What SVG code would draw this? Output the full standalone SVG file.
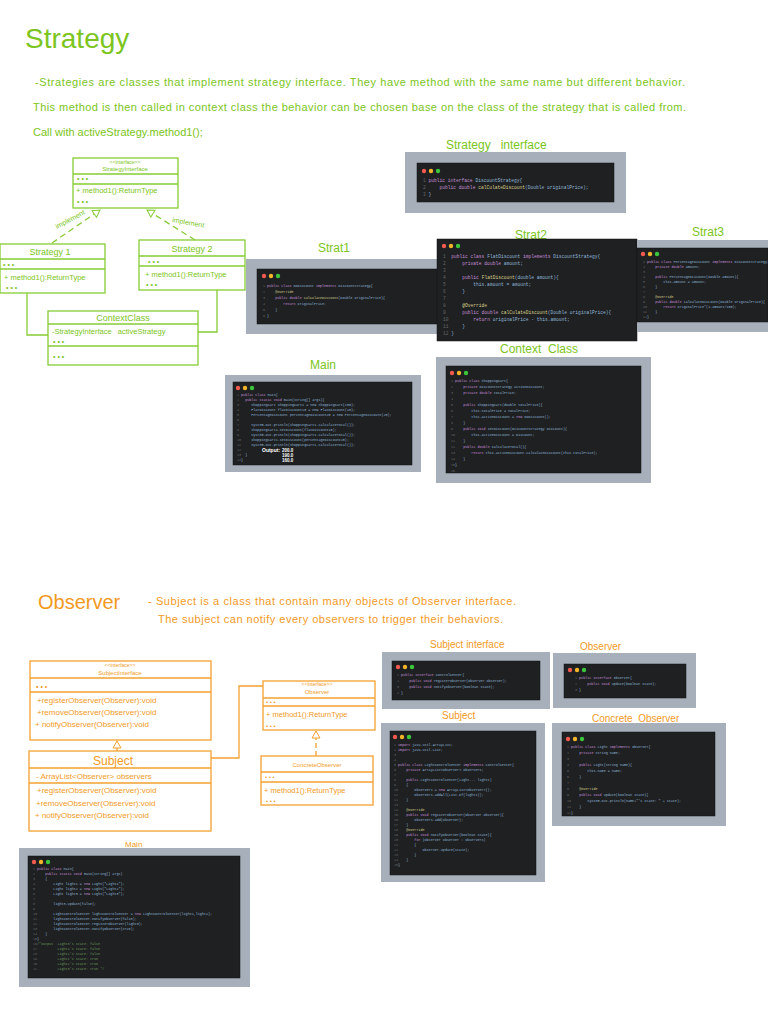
<svg xmlns="http://www.w3.org/2000/svg" width="768" height="1024" viewBox="0 0 768 1024" xml:space="preserve">
<style>
text{white-space:pre}
.g{fill:#7cc520;font-family:"Liberation Sans",sans-serif}
.o{fill:#f29a1e;font-family:"Liberation Sans",sans-serif}
.gb{fill:none;stroke:#86cc34;stroke-width:1.3}
.ob{fill:none;stroke:#f5a030;stroke-width:1.3}
.bg{fill:#a7b0ba}
.dk{fill:#1f2022;stroke:#111;stroke-width:0.5}
.c{font-family:"Liberation Mono",monospace;fill:#8fb8d8;font-size:4.6px}
.cs{font-family:"Liberation Mono",monospace;fill:#8fb8d8;font-size:3.4px}
.n{fill:#666}
.k{fill:#c58fd6}
.y{fill:#d8cf8a}
.gr{fill:#6a9a5a}
</style>
<defs>
<g id="dots"><circle cx="0" cy="0" r="2.2" fill="#f05a4f"/><circle cx="7" cy="0" r="2.2" fill="#f2b52a"/><circle cx="14" cy="0" r="2.2" fill="#3cc63c"/></g>
<marker id="tg" markerWidth="10" markerHeight="10" refX="8" refY="5" orient="auto" markerUnits="userSpaceOnUse"><path d="M1,1 L8,5 L1,9 Z" fill="#fff" stroke="#86cc34"/></marker>
<marker id="to" markerWidth="10" markerHeight="10" refX="8" refY="5" orient="auto" markerUnits="userSpaceOnUse"><path d="M1,1 L8,5 L1,9 Z" fill="#fff" stroke="#f5a030"/></marker>
</defs>
<rect width="768" height="1024" fill="#fff"/>

<text class="g" x="25" y="48" font-size="28">Strategy</text>
<text class="g" x="35" y="86" font-size="11" textLength="650">-Strategies are classes that implement strategy interface. They have method with the same name but different behavior.</text>
<text class="g" x="33" y="111" font-size="11" textLength="653">This method is then called in context class the behavior can be chosen base on the class of the strategy that is called from.</text>
<text class="g" x="33" y="136" font-size="11">Call with activeStrategy.method1();</text>

<g id="connectors-strategy">
<line x1="52" y1="243" x2="100" y2="210" class="gb" stroke-dasharray="6,4" marker-end="url(#tg)"/>
<line x1="195" y1="240" x2="147" y2="210" class="gb" stroke-dasharray="6,4" marker-end="url(#tg)"/>
<text class="g" x="57" y="229" font-size="7" transform="rotate(-28 57 229)">implement</text>
<text class="g" x="172" y="222" font-size="7" transform="rotate(10 172 222)">implement</text>
<polyline points="27,293 27,335 48,335" class="gb"/>
<polyline points="217,290 217,332 198,332" class="gb"/>
</g>

<g id="strategy-interface">
<rect x="73" y="158" width="105" height="50" class="gb"/>
<line x1="73" y1="174" x2="178" y2="174" class="gb"/><line x1="73" y1="184" x2="178" y2="184" class="gb"/>
<text class="g" x="125" y="164" font-size="5" text-anchor="middle">&lt;&lt;interface&gt;&gt;</text>
<text class="g" x="125" y="171" font-size="6" text-anchor="middle">StrategyInterface</text>
<text class="g" x="77" y="181" font-size="7">• • •</text>
<text class="g" x="76" y="193" font-size="7.5">+ method1():ReturnType</text>
<text class="g" x="77" y="204" font-size="7">• • •</text>
</g>
<g id="strategy1">
<rect x="0" y="244" width="105" height="49" class="gb"/>
<line x1="0" y1="259" x2="105" y2="259" class="gb"/><line x1="0" y1="269" x2="105" y2="269" class="gb"/>
<text class="g" x="50" y="255" font-size="9" text-anchor="middle">Strategy 1</text>
<text class="g" x="3" y="267" font-size="7">• • •</text>
<text class="g" x="4" y="280" font-size="7.5">+ method1():ReturnType</text>
<text class="g" x="6" y="290" font-size="7">• • •</text>
</g>
<g id="strategy2">
<rect x="139" y="240" width="106" height="50" class="gb"/>
<line x1="139" y1="256" x2="245" y2="256" class="gb"/><line x1="139" y1="266" x2="245" y2="266" class="gb"/>
<text class="g" x="192" y="252" font-size="9" text-anchor="middle">Strategy 2</text>
<text class="g" x="148" y="264" font-size="7">• • •</text>
<text class="g" x="145" y="277" font-size="7.5">+ method1():ReturnType</text>
<text class="g" x="146" y="287" font-size="7">• • •</text>
</g>
<g id="context-class">
<rect x="48" y="311" width="150" height="54" class="gb"/>
<line x1="48" y1="324" x2="198" y2="324" class="gb"/><line x1="48" y1="346" x2="198" y2="346" class="gb"/>
<text class="g" x="123" y="321" font-size="9" text-anchor="middle">ContextClass</text>
<text class="g" x="52" y="334" font-size="7.5">-StrategyInterface   activeStrategy</text>
<text class="g" x="53" y="344" font-size="7">• • •</text>
<text class="g" x="53" y="359" font-size="7">• • •</text>
</g>

<g id="code-strategy-interface">
<text class="g" x="446" y="149" font-size="12">Strategy   interface</text>
<rect x="405" y="152" width="221" height="61" class="bg"/>
<rect x="417" y="163" width="197" height="39" class="dk"/>
<use href="#dots" x="424" y="171"/>
<text class="c" x="423" y="182"><tspan class="n">1 </tspan><tspan class="k">public interface</tspan> DiscountStrategy{</text>
<text class="c" x="423" y="189"><tspan class="n">2 </tspan>    <tspan class="k">public double</tspan> <tspan class="y">calCulateDiscount</tspan>(Double originalPrice);</text>
<text class="c" x="423" y="196"><tspan class="n">3 </tspan>}</text>
</g>
<g id="code-strat1">
<text class="g" x="318" y="252" font-size="12">Strat1</text>
<rect x="246" y="259" width="194" height="75" class="bg"/>
<rect x="257" y="269" width="183" height="55" class="dk"/>
<use href="#dots" x="264" y="276"/>
<text class="cs" x="263" y="287"><tspan class="n">1 </tspan><tspan class="k">public class</tspan> NoDiscount <tspan class="k">implements</tspan> DiscountStrategy{</text>
<text class="cs" x="263" y="293"><tspan class="n">2 </tspan>    <tspan class="y">@Override</tspan></text>
<text class="cs" x="263" y="299"><tspan class="n">3 </tspan>    <tspan class="k">public double</tspan> <tspan class="y">calCulateDiscount</tspan>(Double originalPrice){</text>
<text class="cs" x="263" y="305"><tspan class="n">4 </tspan>        <tspan class="k">return</tspan> originalPrice;</text>
<text class="cs" x="263" y="311"><tspan class="n">5 </tspan>    }</text>
<text class="cs" x="263" y="317"><tspan class="n">6 </tspan>}</text>
</g>
<g id="code-strat2">
<text class="g" x="515" y="239" font-size="12">Strat2</text>
<rect x="437" y="239" width="200" height="102" class="dk"/>
<use href="#dots" x="444" y="246"/>
<text class="c" x="443" y="258"><tspan class="n">1  </tspan><tspan class="k">public class</tspan> FlatDiscount <tspan class="k">implements</tspan> DiscountStrategy{</text>
<text class="c" x="443" y="265"><tspan class="n">2  </tspan>    <tspan class="k">private double</tspan> amount;</text>
<text class="c" x="443" y="272"><tspan class="n">3</tspan></text>
<text class="c" x="443" y="279"><tspan class="n">4  </tspan>    <tspan class="k">public</tspan> <tspan class="y">FlatDiscount</tspan>(double amount){</text>
<text class="c" x="443" y="286"><tspan class="n">5  </tspan>        this.amount = amount;</text>
<text class="c" x="443" y="293"><tspan class="n">6  </tspan>    }</text>
<text class="c" x="443" y="300"><tspan class="n">7</tspan></text>
<text class="c" x="443" y="307"><tspan class="n">8  </tspan>    <tspan class="y">@Override</tspan></text>
<text class="c" x="443" y="314"><tspan class="n">9  </tspan>    <tspan class="k">public double</tspan> <tspan class="y">calCulateDiscount</tspan>(Double originalPrice){</text>
<text class="c" x="443" y="321"><tspan class="n">10 </tspan>        <tspan class="k">return</tspan> originalPrice - this.amount;</text>
<text class="c" x="443" y="328"><tspan class="n">11 </tspan>    }</text>
<text class="c" x="443" y="335"><tspan class="n">12 </tspan>}</text>
</g>
<g id="code-strat3">
<text class="g" x="692" y="236" font-size="12">Strat3</text>
<rect x="637" y="240" width="131" height="92" class="bg"/>
<rect x="637" y="248" width="131" height="74" class="dk"/>
<use href="#dots" x="643" y="254"/>
<text class="cs" x="643" y="263"><tspan class="n">1 </tspan><tspan class="k">public class</tspan> PercentageDiscount <tspan class="k">implements</tspan> DiscountStrategy{</text>
<text class="cs" x="643" y="268"><tspan class="n">2 </tspan>    <tspan class="k">private double</tspan> amount;</text>
<text class="cs" x="643" y="273"><tspan class="n">3</tspan></text>
<text class="cs" x="643" y="278"><tspan class="n">4 </tspan>    <tspan class="k">public</tspan> PercentageDiscount(Double amount){</text>
<text class="cs" x="643" y="283"><tspan class="n">5 </tspan>        this.amount = amount;</text>
<text class="cs" x="643" y="288"><tspan class="n">6 </tspan>    }</text>
<text class="cs" x="643" y="293"><tspan class="n">7</tspan></text>
<text class="cs" x="643" y="298"><tspan class="n">8 </tspan>    <tspan class="y">@Override</tspan></text>
<text class="cs" x="643" y="303"><tspan class="n">9 </tspan>    <tspan class="k">public double</tspan> calCulateDiscount(Double originalPrice){</text>
<text class="cs" x="643" y="308"><tspan class="n">10</tspan>        <tspan class="k">return</tspan> originalPrice*(1-amount/100);</text>
<text class="cs" x="643" y="313"><tspan class="n">11</tspan>    }</text>
<text class="cs" x="643" y="318"><tspan class="n">12</tspan>}</text>
</g>
<g id="code-main1">
<text class="g" x="310" y="369" font-size="12">Main</text>
<rect x="225" y="375" width="196" height="97" class="bg"/>
<rect x="233" y="382" width="179" height="83" class="dk"/>
<use href="#dots" x="238" y="388"/>
<g font-size="3" class="cs">
<text x="237" y="396"><tspan class="n">1 </tspan><tspan class="k">public class</tspan> Main{</text>
<text x="237" y="401"><tspan class="n">2 </tspan>  <tspan class="k">public static void</tspan> main(String[] args){</text>
<text x="237" y="406"><tspan class="n">3 </tspan>     ShoppingCart shoppingCart1 = new ShoppingCart(200);</text>
<text x="237" y="411"><tspan class="n">4 </tspan>     FlatDiscount flatDiscount10 = new FlatDiscount(10);</text>
<text x="237" y="416"><tspan class="n">5 </tspan>     PercentageDiscount percentageDiscount20 = new PercentageDiscount(20);</text>
<text x="237" y="421"><tspan class="n">6</tspan></text>
<text x="237" y="426"><tspan class="n">7 </tspan>     System.out.println(shoppingCart1.calculateTotal());</text>
<text x="237" y="431"><tspan class="n">8 </tspan>     shoppingCart1.setDiscount(flatDiscount10);</text>
<text x="237" y="436"><tspan class="n">9 </tspan>     System.out.println(shoppingCart1.calculateTotal());</text>
<text x="237" y="441"><tspan class="n">10</tspan>     shoppingCart1.setDiscount(percentageDiscount20);</text>
<text x="237" y="446"><tspan class="n">11</tspan>     System.out.println(shoppingCart1.calculateTotal());</text>
<text x="237" y="451"><tspan class="n">12</tspan></text>
<text x="237" y="456"><tspan class="n">13</tspan>  }</text>
<text x="237" y="461"><tspan class="n">14</tspan>}</text>
</g>
<text x="262" y="452" font-size="5" fill="#fff" font-family="Liberation Sans,sans-serif" font-weight="bold">Output:</text>
<text x="282" y="452" font-size="4.5" fill="#fff" font-family="Liberation Sans,sans-serif" font-weight="bold">200.0</text>
<text x="282" y="457" font-size="4.5" fill="#fff" font-family="Liberation Sans,sans-serif" font-weight="bold">190.0</text>
<text x="282" y="462" font-size="4.5" fill="#fff" font-family="Liberation Sans,sans-serif" font-weight="bold">160.0</text>
</g>
<g id="code-context">
<text class="g" x="500" y="353" font-size="12">Context  Class</text>
<rect x="436" y="357" width="215" height="126" class="bg"/>
<rect x="446" y="366" width="195" height="107" class="dk"/>
<use href="#dots" x="452" y="373"/>
<g class="cs" font-size="3.6">
<text x="451" y="382"><tspan class="n">1 </tspan><tspan class="k">public class</tspan> ShoppingCart{</text>
<text x="451" y="388"><tspan class="n">2 </tspan>    <tspan class="k">private</tspan> DiscountStrategy activeDiscount;</text>
<text x="451" y="394"><tspan class="n">3 </tspan>    <tspan class="k">private double</tspan> totalPrice;</text>
<text x="451" y="400"><tspan class="n">4</tspan></text>
<text x="451" y="406"><tspan class="n">5 </tspan>    <tspan class="k">public</tspan> ShoppingCart(double totalPrice){</text>
<text x="451" y="412"><tspan class="n">6 </tspan>        this.totalPrice = totalPrice;</text>
<text x="451" y="418"><tspan class="n">7 </tspan>        this.activeDiscount = <tspan class="k">new</tspan> NoDiscount();</text>
<text x="451" y="424"><tspan class="n">8 </tspan>    }</text>
<text x="451" y="430"><tspan class="n">9 </tspan>    <tspan class="k">public void</tspan> setDiscount(DiscountStrategy Discount){</text>
<text x="451" y="436"><tspan class="n">10</tspan>        this.activeDiscount = Discount;</text>
<text x="451" y="442"><tspan class="n">11</tspan>    }</text>
<text x="451" y="448"><tspan class="n">12</tspan>    <tspan class="k">public double</tspan> CalculateTotal(){</text>
<text x="451" y="454"><tspan class="n">13</tspan>        <tspan class="k">return</tspan> this.activeDiscount.calCulateDiscount(this.totalPrice);</text>
<text x="451" y="460"><tspan class="n">14</tspan>    }</text>
<text x="451" y="466"><tspan class="n">15</tspan>}</text>
<text x="451" y="472"><tspan class="n">16</tspan></text>
</g>
</g>

<text class="o" x="38" y="609" font-size="20">Observer</text>
<text class="o" x="148" y="605" font-size="11" textLength="368">- Subject is a class that contain many objects of Observer interface.</text>
<text class="o" x="158" y="623" font-size="11" textLength="345">The subject can notify every observers to trigger their behaviors.</text>

<g id="connectors-observer">
<polyline points="211,758 239,758 239,686 263,686" class="ob"/>
<line x1="117" y1="751" x2="117" y2="741" class="ob" marker-end="url(#to)"/>
<line x1="316" y1="756" x2="316" y2="731" class="ob" stroke-dasharray="5,3" marker-end="url(#to)"/>
</g>
<g id="subject-interface">
<rect x="30" y="661" width="181" height="79" class="ob"/>
<line x1="30" y1="678" x2="211" y2="678" class="ob"/><line x1="30" y1="692" x2="211" y2="692" class="ob"/>
<text class="o" x="120" y="667" font-size="5" text-anchor="middle">&lt;&lt;interface&gt;&gt;</text>
<text class="o" x="120" y="675" font-size="6" text-anchor="middle">SubjectInterface</text>
<text class="o" x="36" y="689" font-size="7">• • •</text>
<text class="o" x="37" y="703" font-size="8">+registerObserver(Observer):void</text>
<text class="o" x="37" y="715" font-size="8">+removeObserver(Observer):void</text>
<text class="o" x="35" y="727" font-size="8">+ notifyObserver(Observer):void</text>
</g>
<g id="subject">
<rect x="29" y="751" width="182" height="80" class="ob"/>
<line x1="29" y1="768" x2="211" y2="768" class="ob"/><line x1="29" y1="783" x2="211" y2="783" class="ob"/>
<text class="o" x="113" y="765" font-size="12" text-anchor="middle">Subject</text>
<text class="o" x="36" y="779" font-size="8">- ArrayList&lt;Observer&gt; observers</text>
<text class="o" x="37" y="793" font-size="8">+registerObserver(Observer):void</text>
<text class="o" x="36" y="806" font-size="8">+removeObserver(Observer):void</text>
<text class="o" x="35" y="818" font-size="8">+ notifyObserver(Observer):void</text>
</g>
<g id="observer-interface">
<rect x="263" y="681" width="112" height="49" class="ob"/>
<line x1="263" y1="698" x2="375" y2="698" class="ob"/><line x1="263" y1="706" x2="375" y2="706" class="ob"/>
<text class="o" x="317" y="686" font-size="5" text-anchor="middle">&lt;&lt;interface&gt;&gt;</text>
<text class="o" x="317" y="694" font-size="6" text-anchor="middle">Observer</text>
<text class="o" x="266" y="704" font-size="6">• • •</text>
<text class="o" x="266" y="717" font-size="7.5">+ method1():ReturnType</text>
<text class="o" x="266" y="728" font-size="6">• • •</text>
</g>
<g id="concrete-observer">
<rect x="261" y="756" width="112" height="49" class="ob"/>
<line x1="261" y1="772" x2="373" y2="772" class="ob"/><line x1="261" y1="782" x2="373" y2="782" class="ob"/>
<text class="o" x="317" y="767" font-size="6" text-anchor="middle">ConcreteObserver</text>
<text class="o" x="265" y="779" font-size="6">• • •</text>
<text class="o" x="264" y="793" font-size="7.5">+ method1():ReturnType</text>
<text class="o" x="266" y="803" font-size="6">• • •</text>
</g>

<g id="code-subject-interface">
<text class="o" x="430" y="648" font-size="10">Subject interface</text>
<rect x="382" y="652" width="168" height="57" class="bg"/>
<rect x="392" y="661" width="148" height="39" class="dk"/>
<use href="#dots" x="398" y="667"/>
<g class="cs">
<text x="397" y="676"><tspan class="n">1 </tspan><tspan class="k">public interface</tspan> ControlCenter{</text>
<text x="397" y="682"><tspan class="n">2 </tspan>    <tspan class="k">public void</tspan> registerObserver(Observer observer);</text>
<text x="397" y="688"><tspan class="n">3 </tspan>    <tspan class="k">public void</tspan> notifyObserver(boolean state);</text>
<text x="397" y="694"><tspan class="n">4 </tspan>}</text>
</g>
</g>
<g id="code-observer">
<text class="o" x="580" y="650" font-size="10">Observer</text>
<rect x="553" y="653" width="143" height="55" class="bg"/>
<rect x="564" y="664" width="122" height="34" class="dk"/>
<use href="#dots" x="570" y="670"/>
<g class="cs">
<text x="575" y="679"><tspan class="n">1 </tspan><tspan class="k">public interface</tspan> Observer{</text>
<text x="575" y="685"><tspan class="n">2 </tspan>    <tspan class="k">public void</tspan> update(boolean state);</text>
<text x="575" y="691"><tspan class="n">3 </tspan>}</text>
</g>
</g>
<g id="code-subject">
<text class="o" x="442" y="719" font-size="10">Subject</text>
<rect x="381" y="723" width="164" height="159" class="bg"/>
<rect x="390" y="731" width="146" height="144" class="dk"/>
<use href="#dots" x="395" y="737"/>
<g class="cs" font-size="3.2">
<text x="394" y="746"><tspan class="n">1 </tspan><tspan class="k">import</tspan> java.util.ArrayList;</text>
<text x="394" y="751"><tspan class="n">2 </tspan><tspan class="k">import</tspan> java.util.List;</text>
<text x="394" y="756"><tspan class="n">3</tspan></text>
<text x="394" y="761"><tspan class="n">4</tspan></text>
<text x="394" y="766"><tspan class="n">5 </tspan><tspan class="k">public class</tspan> LightControlCenter <tspan class="k">implements</tspan> ControlCenter{</text>
<text x="394" y="771"><tspan class="n">6 </tspan>    <tspan class="k">private</tspan> ArrayList&lt;Observer&gt; observers;</text>
<text x="394" y="776"><tspan class="n">7</tspan></text>
<text x="394" y="781"><tspan class="n">8 </tspan>    <tspan class="k">public</tspan> LightControlCenter(Light... lights)</text>
<text x="394" y="786"><tspan class="n">9 </tspan>    {</text>
<text x="394" y="791"><tspan class="n">10</tspan>        observers = <tspan class="k">new</tspan> ArrayList&lt;Observer&gt;();</text>
<text x="394" y="796"><tspan class="n">11</tspan>        observers.addAll(List.of(lights));</text>
<text x="394" y="801"><tspan class="n">12</tspan>    }</text>
<text x="394" y="806"><tspan class="n">13</tspan></text>
<text x="394" y="811"><tspan class="n">14</tspan>    <tspan class="y">@Override</tspan></text>
<text x="394" y="816"><tspan class="n">15</tspan>    <tspan class="k">public void</tspan> registerObserver(Observer observer){</text>
<text x="394" y="821"><tspan class="n">16</tspan>        observers.add(observer);</text>
<text x="394" y="826"><tspan class="n">17</tspan>    }</text>
<text x="394" y="831"><tspan class="n">18</tspan>    <tspan class="y">@Override</tspan></text>
<text x="394" y="836"><tspan class="n">19</tspan>    <tspan class="k">public void</tspan> notifyObserver(boolean state){</text>
<text x="394" y="841"><tspan class="n">20</tspan>        <tspan class="k">for</tspan> (Observer observer : observers)</text>
<text x="394" y="846"><tspan class="n">21</tspan>        {</text>
<text x="394" y="851"><tspan class="n">22</tspan>            observer.update(state);</text>
<text x="394" y="856"><tspan class="n">23</tspan>        }</text>
<text x="394" y="861"><tspan class="n">24</tspan>    }</text>
<text x="394" y="866"><tspan class="n">25</tspan>}</text>
</g>
</g>
<g id="code-concrete-observer">
<text class="o" x="592" y="722" font-size="10">Concrete  Observer</text>
<rect x="552" y="723" width="174" height="103" class="bg"/>
<rect x="562" y="732" width="153" height="84" class="dk"/>
<use href="#dots" x="568" y="739"/>
<g class="cs" font-size="3.4">
<text x="567" y="748"><tspan class="n">1 </tspan><tspan class="k">public class</tspan> Light <tspan class="k">implements</tspan> Observer{</text>
<text x="567" y="754"><tspan class="n">2 </tspan>    <tspan class="k">private</tspan> String name;</text>
<text x="567" y="760"><tspan class="n">3</tspan></text>
<text x="567" y="766"><tspan class="n">4 </tspan>    <tspan class="k">public</tspan> Light(String name){</text>
<text x="567" y="772"><tspan class="n">5 </tspan>        this.name = name;</text>
<text x="567" y="778"><tspan class="n">6 </tspan>    }</text>
<text x="567" y="784"><tspan class="n">7</tspan></text>
<text x="567" y="790"><tspan class="n">8 </tspan>    <tspan class="y">@Override</tspan></text>
<text x="567" y="796"><tspan class="n">9 </tspan>    <tspan class="k">public void</tspan> update(boolean state){</text>
<text x="567" y="802"><tspan class="n">10</tspan>        System.out.println(name+"'s state: " + state);</text>
<text x="567" y="808"><tspan class="n">11</tspan>    }</text>
<text x="567" y="814"><tspan class="n">12</tspan>}</text>
</g>
</g>
<g id="code-main2">
<text class="o" x="125" y="847" font-size="8">Main</text>
<rect x="19" y="848" width="231" height="139" class="bg"/>
<rect x="28" y="856" width="212" height="122" class="dk"/>
<use href="#dots" x="34" y="862"/>
<g class="cs" font-size="3.2">
<text x="33" y="870"><tspan class="n">1 </tspan><tspan class="k">public class</tspan> Main{</text>
<text x="33" y="875"><tspan class="n">2 </tspan>    <tspan class="k">public static void</tspan> main(String[] args)</text>
<text x="33" y="880"><tspan class="n">3 </tspan>    {</text>
<text x="33" y="885"><tspan class="n">4 </tspan>        Light light1 = <tspan class="k">new</tspan> Light("Light1");</text>
<text x="33" y="890"><tspan class="n">5 </tspan>        Light light2 = <tspan class="k">new</tspan> Light("Light2");</text>
<text x="33" y="895"><tspan class="n">6 </tspan>        Light light3 = <tspan class="k">new</tspan> Light("Light3");</text>
<text x="33" y="900"><tspan class="n">7</tspan></text>
<text x="33" y="905"><tspan class="n">8 </tspan>        light3.update(false);</text>
<text x="33" y="910"><tspan class="n">9</tspan></text>
<text x="33" y="915"><tspan class="n">10</tspan>        LightControlCenter lightControlCenter = <tspan class="k">new</tspan> LightControlCenter(light1,light2);</text>
<text x="33" y="920"><tspan class="n">11</tspan>        lightControlCenter.notifyObserver(false);</text>
<text x="33" y="925"><tspan class="n">12</tspan>        lightControlCenter.registerObserver(light3);</text>
<text x="33" y="930"><tspan class="n">13</tspan>        lightControlCenter.notifyObserver(true);</text>
<text x="33" y="935"><tspan class="n">14</tspan>    }</text>
<text x="33" y="940"><tspan class="n">15</tspan>}</text>
<text x="33" y="945"><tspan class="n">16</tspan><tspan class="gr">/*Output  Light3's state: false</tspan></text>
<text x="33" y="950"><tspan class="n">17</tspan><tspan class="gr">          Light1's state: false</tspan></text>
<text x="33" y="955"><tspan class="n">18</tspan><tspan class="gr">          Light2's state: false</tspan></text>
<text x="33" y="960"><tspan class="n">19</tspan><tspan class="gr">          Light1's state: true</tspan></text>
<text x="33" y="965"><tspan class="n">20</tspan><tspan class="gr">          Light2's state: true</tspan></text>
<text x="33" y="970"><tspan class="n">21</tspan><tspan class="gr">          Light3's state: true */</tspan></text>
</g>
</g>
</svg>
